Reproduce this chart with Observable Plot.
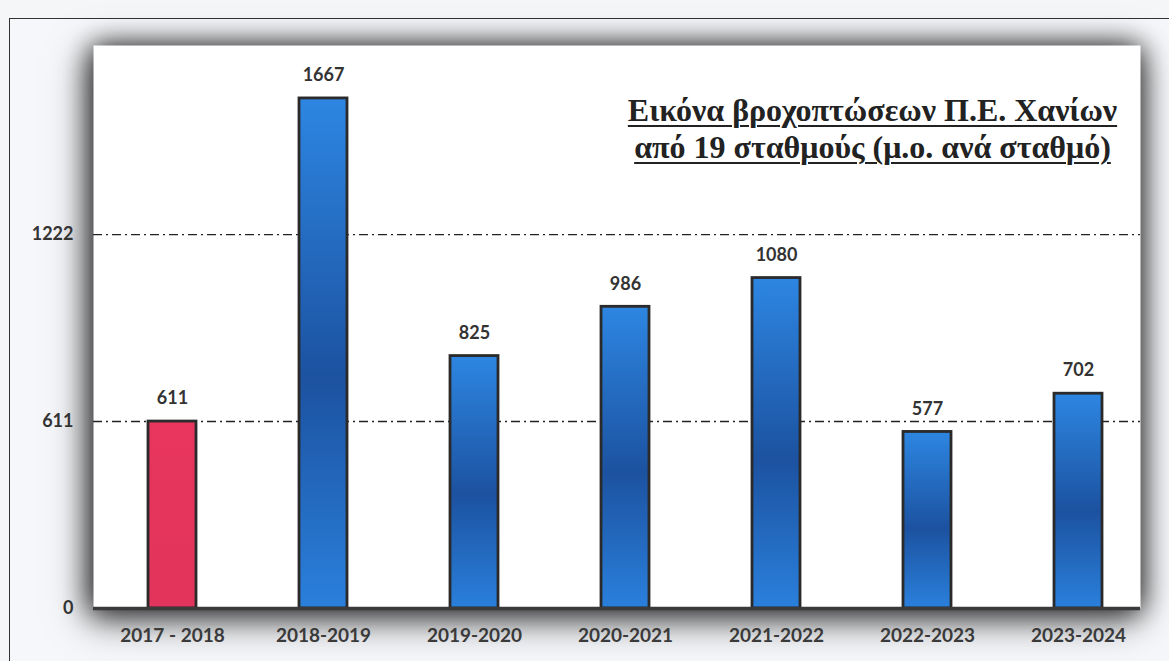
<!DOCTYPE html>
<html>
<head>
<meta charset="utf-8">
<script src="https://cdn.jsdelivr.net/npm/d3@7"></script>
<script src="https://cdn.jsdelivr.net/npm/@observablehq/plot@0.6"></script>
<style>
  html, body { margin: 0; padding: 0; background: #f5f6f8; }
  #wrap { position: relative; width: 1169px; height: 661px; overflow: hidden; }
  #box { position: absolute; left: 9px; top: 18px; width: 1170px; height: 660px;
         border-top: 1.5px solid #333; border-left: 1.5px solid #333; background: #f6f7fa; }
  #chart { position: absolute; left: 0; top: 0; }
  #chart svg { background: transparent; overflow: visible; }
  #chart svg [aria-label="frame"] { filter: drop-shadow(0px 0px 14px rgba(0,0,0,0.8)) drop-shadow(-4px 10px 16px rgba(0,0,0,0.55)); }
  #title { position: absolute; left: 590px; top: 92px; width: 565px; text-align: center;
           font-family: "Liberation Serif", "DejaVu Serif", serif; font-weight: bold;
           font-size: 32px; line-height: 37px; color: #222; text-decoration: underline;
           text-decoration-thickness: 2px; text-underline-offset: 4px; }
</style>
</head>
<body>
<div id="wrap">
  <div id="box"></div>
  <div id="chart"></div>
  <div id="title">Εικόνα βροχοπτώσεων Π.Ε. Χανίων<br>από 19 σταθμούς (μ.ο. ανά σταθμό)</div>
</div>
<script>
const seasons = ["2017 - 2018", "2018-2019", "2019-2020", "2020-2021", "2021-2022", "2022-2023", "2023-2024"];
const rainfall = [611, 1667, 825, 986, 1080, 577, 702];
const refLines = [611, 1222];
const yTicks = [0, 611, 1222];

const data = seasons.map((s, i) => ({season: s, value: rainfall[i], first: i === 0}));

const plot = Plot.plot({
  width: 1169,
  height: 661,
  marginLeft: 93,
  marginRight: 29,
  marginTop: 45,
  marginBottom: 53,
  style: {fontFamily: "Lato, 'Open Sans', sans-serif", overflow: "visible"},
  x: {domain: seasons, range: [101, 1148], paddingInner: 0.683, paddingOuter: 0.3, label: null},
  y: {domain: [0, 1840], label: null},
  marks: [
    Plot.frame({fill: "white", stroke: "none"}),
    Plot.ruleY(refLines, {stroke: "#222", strokeWidth: 1.4, strokeDasharray: "9,4,2,4"}),
    Plot.barY(data, {
      x: "season", y: "value",
      fill: d => d.first ? "url(#redGrad)" : "url(#blueGrad)",
      stroke: "#2a2a2a", strokeWidth: 2.8
    }),
    Plot.ruleY([0], {stroke: "#3a3a3a", strokeWidth: 3.5}),
    Plot.text(data, {x: "season", y: "value", text: d => String(d.value), dy: -23,
      fontSize: 18, fontWeight: "bold", fill: "#333"}),
    Plot.axisY(yTicks, {tickSize: 0, tickPadding: 20, fontSize: 18, fontWeight: "bold", fill: "#333",
      tickFormat: d => String(d), label: null}),
    Plot.axisX({tickSize: 0, tickPadding: 20, fontSize: 19, fontWeight: "bold", fill: "#3a3a3a", label: null})
  ]
});

const svg = d3.select(plot);
const defs = svg.insert("defs", ":first-child");
const bg = defs.append("linearGradient").attr("id", "blueGrad").attr("x1", 0).attr("y1", 0).attr("x2", 0).attr("y2", 1);
bg.append("stop").attr("offset", "0%").attr("stop-color", "#2d86e2");
bg.append("stop").attr("offset", "55%").attr("stop-color", "#1c52a0");
bg.append("stop").attr("offset", "100%").attr("stop-color", "#2a80dc");
const rg = defs.append("linearGradient").attr("id", "redGrad").attr("x1", 0).attr("y1", 0).attr("x2", 0).attr("y2", 1);
rg.append("stop").attr("offset", "0%").attr("stop-color", "#e8365e");
rg.append("stop").attr("offset", "100%").attr("stop-color", "#e2345c");

document.getElementById("chart").appendChild(plot);
</script>
</body>
</html>
